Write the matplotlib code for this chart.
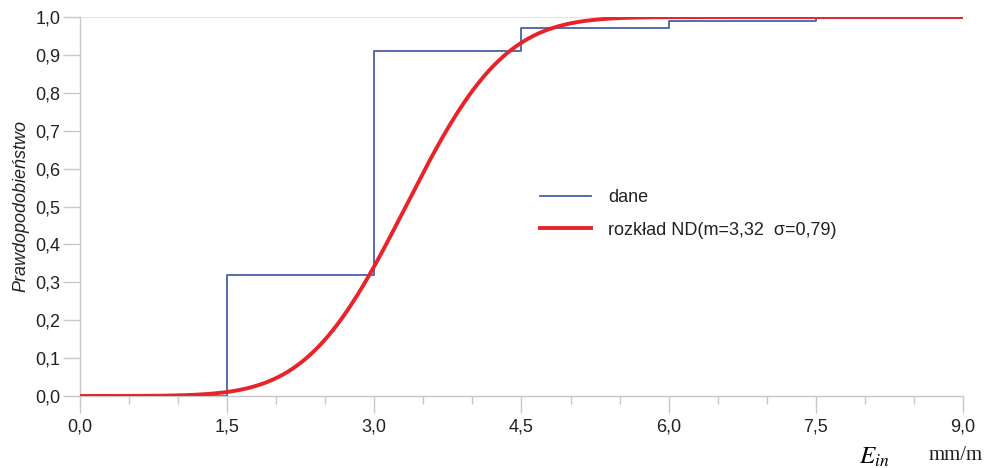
import math
import numpy as np
import matplotlib
matplotlib.use("Agg")
import matplotlib.pyplot as plt
from matplotlib.ticker import MultipleLocator, FuncFormatter

# Empirical step data (dane)
step_x = [0.0, 1.5, 3.0, 4.5, 6.0, 7.5]
step_y = [0.0, 0.32, 0.91, 0.97, 0.99, 1.0]

# Fitted normal distribution parameters
m = 3.32
sigma = 0.79

x_ticks = [0.0, 1.5, 3.0, 4.5, 6.0, 7.5, 9.0]
y_ticks = [0.0, 0.1, 0.2, 0.3, 0.4, 0.5, 0.6, 0.7, 0.8, 0.9, 1.0]

plt.rcParams['font.family'] = ['Liberation Sans', 'DejaVu Sans']

fig = plt.figure(figsize=(9.87, 4.68), dpi=100)
ax = fig.add_axes([80/987, 1-396/468, (963-80)/987, (396-17)/468])

xs = np.linspace(0, 9, 400)
cdf = [0.5 * (1 + math.erf((v - m) / (sigma * math.sqrt(2)))) for v in xs]

ax.axhline(1.0, color='#e6e6e6', lw=1, zorder=0)
ax.step(step_x, step_y, where='post', color='#4a5fa8', lw=1.3, label='dane', zorder=2)
ax.plot(xs, cdf, color='#e8232a', lw=2.8, label='rozkład ND(m=3,32  σ=0,79)', zorder=3)

ax.set_xlim(0, 9)
ax.set_ylim(0, 1)
ax.set_xticks(x_ticks)
ax.set_yticks(y_ticks)
ax.xaxis.set_minor_locator(MultipleLocator(0.5))
fmt1 = FuncFormatter(lambda v, p: f"{v:.1f}".replace('.', ','))
ax.xaxis.set_major_formatter(fmt1)
ax.yaxis.set_major_formatter(fmt1)

for s in ['top', 'right']:
    ax.spines[s].set_visible(False)
for s in ['left', 'bottom']:
    ax.spines[s].set_color('#c8c8c8')
    ax.spines[s].set_linewidth(1)
ax.tick_params(axis='both', which='major', colors='#c8c8c8', labelcolor='#222222',
               labelsize=13, length=12, width=1)
ax.tick_params(axis='x', which='major', pad=4)
ax.tick_params(axis='y', which='major', pad=2)
ax.tick_params(axis='x', which='minor', colors='#c8c8c8', length=6, width=1)

ax.set_ylabel('Prawdopodobieństwo', fontsize=13, style='italic', color='#222222', labelpad=4)

leg = ax.legend(loc='upper left', bbox_to_anchor=(0.503, 0.588), frameon=False, fontsize=13,
                handlelength=2.8, handletextpad=0.95, labelspacing=0.85)
for t in leg.get_texts():
    t.set_color('#222222')

fig.text(874/987, 1-457/468, r'$E_{in}$', fontsize=18, ha='center', va='center',
         math_fontfamily='stix')
fig.text(956/987, 1-456/468, 'mm/m', fontsize=15, ha='center', va='center',
         family='Liberation Serif', color='#222222')

fig.savefig('out.png', dpi=100)
